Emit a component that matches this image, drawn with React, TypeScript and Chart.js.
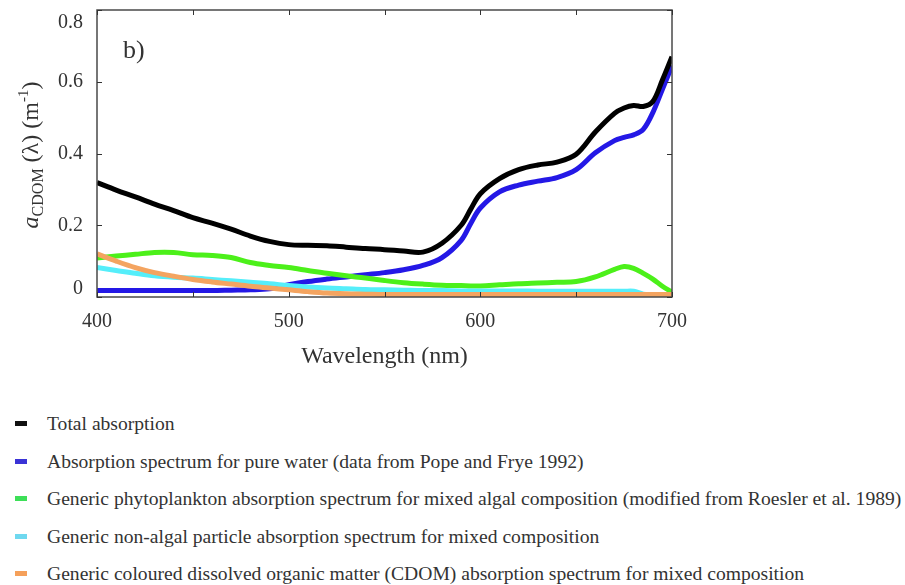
import React, { useEffect, useRef } from "react";
import { Chart, registerables } from "chart.js";

Chart.register(...registerables);

const wavelengths = [400, 410, 420, 430, 440, 450, 460, 470, 480, 490, 500, 510, 520, 530, 540, 550, 560, 570, 580, 590, 595, 600, 610, 620, 630, 640, 650, 660, 670, 675, 680, 685, 690, 695, 700];

const totalAbsorption = [0.319, 0.298, 0.279, 0.259, 0.241, 0.221, 0.206, 0.189, 0.170, 0.155, 0.146, 0.144, 0.143, 0.139, 0.135, 0.132, 0.128, 0.125, 0.150, 0.200, 0.245, 0.288, 0.330, 0.355, 0.368, 0.376, 0.398, 0.460, 0.512, 0.527, 0.534, 0.531, 0.545, 0.605, 0.670];

const pureWater = [0.018, 0.018, 0.018, 0.018, 0.018, 0.018, 0.018, 0.019, 0.020, 0.023, 0.034, 0.043, 0.050, 0.056, 0.062, 0.068, 0.076, 0.088, 0.110, 0.158, 0.205, 0.248, 0.293, 0.312, 0.323, 0.333, 0.355, 0.402, 0.436, 0.445, 0.452, 0.467, 0.514, 0.579, 0.645];

const phytoplankton = [0.109, 0.114, 0.119, 0.124, 0.124, 0.118, 0.116, 0.110, 0.096, 0.088, 0.082, 0.074, 0.066, 0.059, 0.053, 0.046, 0.040, 0.036, 0.033, 0.032, 0.031, 0.031, 0.034, 0.037, 0.039, 0.041, 0.043, 0.056, 0.077, 0.085, 0.080, 0.066, 0.050, 0.030, 0.014];

const nonAlgal = [0.082, 0.074, 0.066, 0.059, 0.055, 0.053, 0.049, 0.045, 0.041, 0.037, 0.032, 0.028, 0.025, 0.023, 0.021, 0.020, 0.019, 0.018, 0.018, 0.017, 0.017, 0.017, 0.017, 0.017, 0.016, 0.016, 0.016, 0.016, 0.016, 0.016, 0.016, 0.008, 0.007, 0.007, 0.007];

const cdom = [0.120, 0.100, 0.082, 0.068, 0.058, 0.049, 0.042, 0.036, 0.030, 0.025, 0.020, 0.015, 0.011, 0.009, 0.008, 0.007, 0.007, 0.007, 0.007, 0.007, 0.007, 0.007, 0.007, 0.007, 0.007, 0.007, 0.007, 0.007, 0.007, 0.007, 0.007, 0.007, 0.007, 0.007, 0.007];

const seriesLabels = [
  "Total absorption",
  "Absorption spectrum for pure water (data from Pope and Frye 1992)",
  "Generic phytoplankton absorption spectrum for mixed algal composition (modified from Roesler et al. 1989)",
  "Generic non-algal particle absorption spectrum for mixed composition",
  "Generic coloured dissolved organic matter (CDOM) absorption spectrum for mixed composition",
];
const seriesValues = [totalAbsorption, pureWater, phytoplankton, nonAlgal, cdom];
const lineColors = ["#000000", "#2418e6", "#4cf01a", "#55eefa", "#f4a460"];
const legendColors = ["#111111", "#3a33d6", "#3ddf58", "#6fd8ef", "#f5a05a"];
const drawOrder = [0, 4, 3, 2, 1];

const yTickLabels = ["0", "0.2", "0.4", "0.6", "0.8"];

const SERIF = "'Liberation Serif', 'DejaVu Serif', serif";
const TEXT = "#333333";

const framePlugin = {
  id: "frameAndLabels",
  afterDatasetsDraw(chart: any) {
    const { ctx, chartArea: a, scales } = chart;
    const xs = scales.x;
    const ys = scales.y;
    ctx.save();
    ctx.strokeStyle = "#4a4a4a";
    ctx.lineWidth = 1.5;
    ctx.strokeRect(a.left, a.top, a.right - a.left, a.bottom - a.top);
    ctx.lineWidth = 1;
    ctx.strokeStyle = "#333";
    ctx.beginPath();
    xs.ticks.forEach((t: any) => {
      const px = Math.round(xs.getPixelForValue(t.value)) + 0.5;
      ctx.moveTo(px, a.bottom);
      ctx.lineTo(px, a.bottom - 5);
      ctx.moveTo(px, a.top);
      ctx.lineTo(px, a.top + 5);
    });
    ys.ticks.forEach((t: any) => {
      const py = Math.round(ys.getPixelForValue(t.value)) + 0.5;
      ctx.moveTo(a.left, py);
      ctx.lineTo(a.left + 5, py);
      ctx.moveTo(a.right, py);
      ctx.lineTo(a.right - 5, py);
    });
    ctx.stroke();
    ctx.restore();
  },
  afterDraw(chart: any) {
    const { ctx, chartArea: a, scales } = chart;
    const ys = scales.y;
    ctx.save();
    ctx.fillStyle = TEXT;
    ctx.font = `20px ${SERIF}`;
    ctx.textAlign = "right";
    ctx.textBaseline = "middle";
    ys.ticks.forEach((t: any, i: number) => {
      const py = ys.getPixelForValue(t.value);
      const yy = Math.min(Math.max(py, a.top + 13), a.bottom - 8);
      ctx.fillText(yTickLabels[i] ?? String(t.value), a.left - 14, yy);
    });
    ctx.textAlign = "left";
    ctx.textBaseline = "alphabetic";
    ctx.font = `26px ${SERIF}`;
    ctx.fillText("b)", a.left + 26, 58);
    const parts = [
      { t: "a", f: `italic 24px ${SERIF}`, dy: 0 },
      { t: "CDOM", f: `16px ${SERIF}`, dy: 5 },
      { t: " (λ) (m", f: `24px ${SERIF}`, dy: 0 },
      { t: "-1", f: `15px ${SERIF}`, dy: -10 },
      { t: ")", f: `24px ${SERIF}`, dy: 0 },
    ];
    let total = 0;
    const widths = parts.map((p) => {
      ctx.font = p.f;
      const w = ctx.measureText(p.t).width;
      total += w;
      return w;
    });
    ctx.translate(30, 155);
    ctx.rotate(-Math.PI / 2);
    let cx = -total / 2;
    parts.forEach((p, i) => {
      ctx.font = p.f;
      ctx.fillText(p.t, cx, 8 + p.dy);
      cx += widths[i];
    });
    ctx.restore();
  },
};

export default function App() {
  const canvasRef = useRef<HTMLCanvasElement | null>(null);

  useEffect(() => {
    if (!canvasRef.current) return;
    const datasets = seriesLabels.map((label, i) => ({
      label,
      data: wavelengths.map((w, j) => ({ x: w, y: seriesValues[i][j] })),
      borderColor: lineColors[i],
      backgroundColor: lineColors[i],
      borderWidth: 5,
      pointRadius: 0,
      tension: 0.35,
      fill: false,
      order: drawOrder[i],
    }));
    const chart = new Chart(canvasRef.current, {
      type: "line",
      data: { datasets },
      options: {
        animation: false,
        responsive: false,
        maintainAspectRatio: false,
        layout: { padding: { left: 0, right: 233, top: 10, bottom: 0 } },
        plugins: {
          legend: { display: false },
          tooltip: { enabled: false },
        },
        scales: {
          x: {
            type: "linear",
            min: 400,
            max: 700,
            grid: { display: false, drawTicks: false },
            border: { display: false },
            ticks: {
              stepSize: 50,
              autoSkip: false,
              maxRotation: 0,
              padding: 13,
              color: TEXT,
              font: { family: SERIF, size: 20 },
              callback: (v: any) => (Number(v) % 100 === 0 ? String(v) : ""),
            },
            title: {
              display: true,
              text: "Wavelength (nm)",
              color: TEXT,
              font: { family: SERIF, size: 24 },
            },
            afterFit: (s: any) => {
              s.height = 78;
            },
          },
          y: {
            type: "linear",
            min: 0,
            max: 0.8,
            grid: { display: false, drawTicks: false },
            border: { display: false },
            ticks: { display: false, stepSize: 0.2 },
            afterFit: (s: any) => {
              s.width = 97;
            },
          },
        },
      },
      plugins: [framePlugin],
    });
    return () => chart.destroy();
  }, []);

  return (
    <div style={{ position: "absolute", left: 0, top: 0, width: 905, height: 585, background: "#fff", overflow: "hidden" }}>
      <canvas ref={canvasRef} width={905} height={375} style={{ display: "block", width: 905, height: 375 }} />
      <div style={{ position: "absolute", left: 0, top: 405, width: 905 }}>
        {seriesLabels.map((label, i) => (
          <div key={label} style={{ position: "relative", height: 37.5, lineHeight: "37.5px", fontFamily: SERIF, fontSize: 19.6, color: TEXT, whiteSpace: "nowrap" }}>
            <span style={{ position: "absolute", left: 15, top: 16, width: 12, height: 5, background: legendColors[i] }} />
            <span style={{ position: "absolute", left: 47, top: 0 }}>{label}</span>
          </div>
        ))}
      </div>
    </div>
  );
}
